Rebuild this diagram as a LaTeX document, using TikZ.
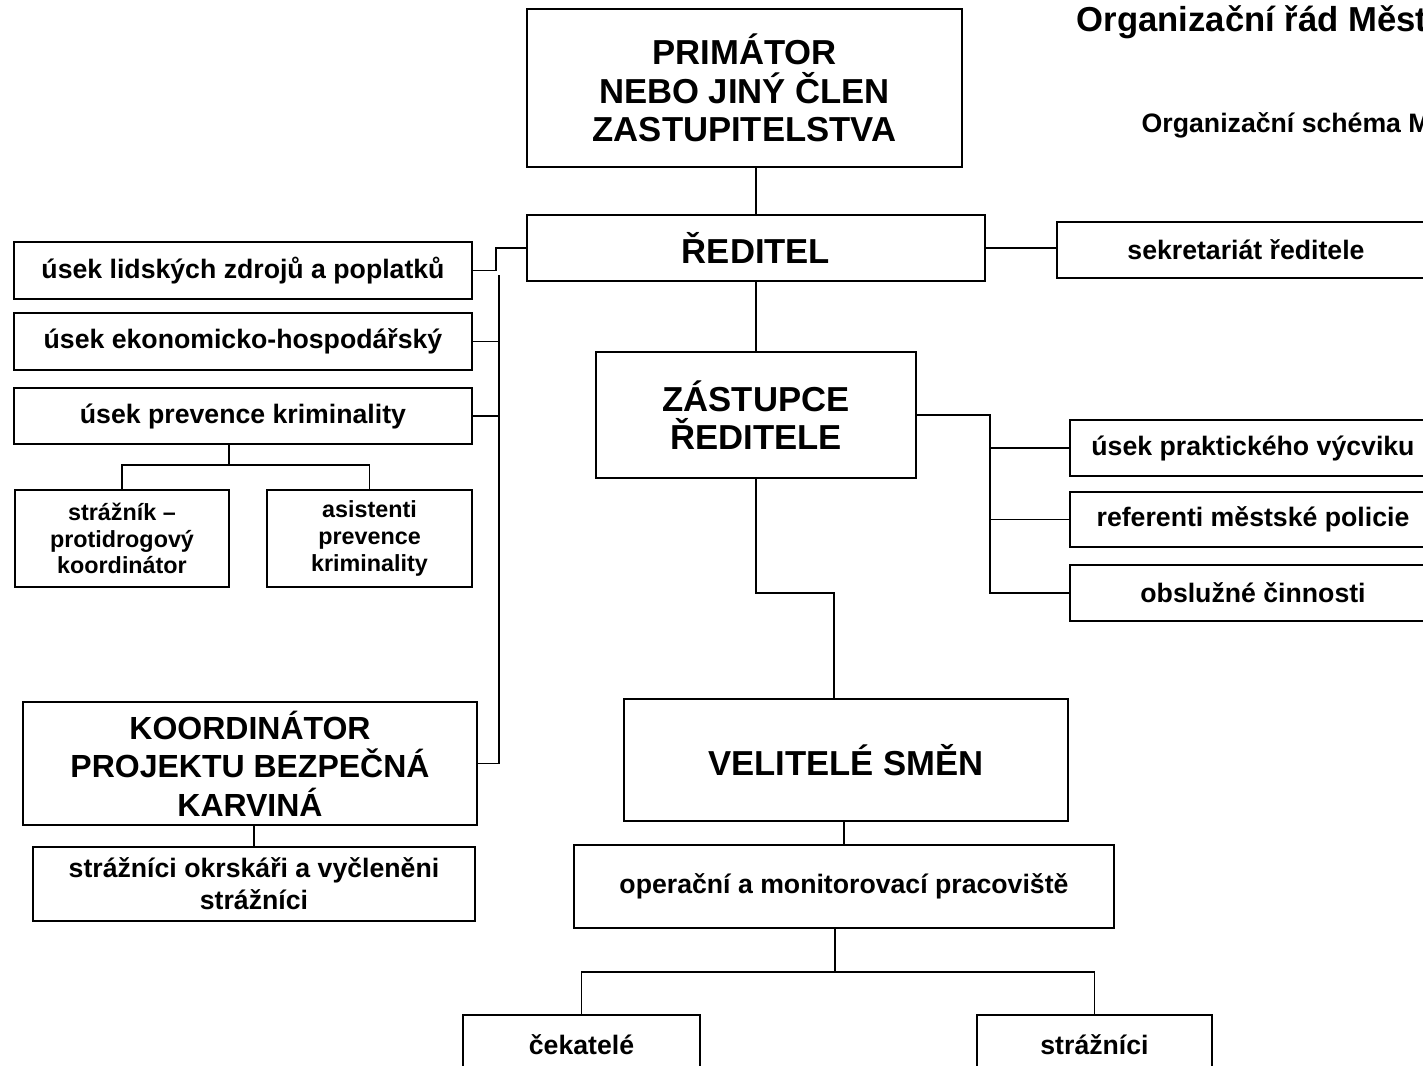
\documentclass[tikz,border=0pt]{standalone}
\usepackage{fontspec}
\setmainfont{Liberation Sans}

\tikzset{box/.style={draw,line width=1.5pt,inner sep=0pt,align=center}}
\tikzset{bigbox/.style={box,font=\fontsize{26}{29}\selectfont\bfseries}}
\tikzset{midbox/.style={box,font=\fontsize{24}{29}\selectfont\bfseries}}
\tikzset{smallbox/.style={box,font=\fontsize{20}{24}\selectfont\bfseries}}
\tikzset{tinybox/.style={box,font=\fontsize{17.5}{20}\selectfont\bfseries}}
\tikzset{conn/.style={line width=1.1pt}}

\begin{document}
\begin{tikzpicture}[x=0.75pt,y=-0.75pt]
        \useasboundingbox (0,0) rectangle (1423,1066);
        % titles (cut at the page edge)
        \node[anchor=base west,font=\fontsize{26}{30}\selectfont\bfseries] (title) at (1072,32) {Organizační řád Měst};
        \node[anchor=base west,font=\fontsize{20}{24}\selectfont\bfseries] (subtitle) at (1137,133) {Organizační schéma M};

        % top of the chart
        \node[bigbox,minimum width=326.25pt,minimum height=118.5pt] (prim) at (744.5,88) {PRIMÁTOR\\NEBO JINÝ ČLEN\\ZASTUPITELSTVA};
        \node[bigbox,minimum width=343.5pt,minimum height=49.5pt] (red) at (756,248) {ŘEDITEL};
        \node[smallbox,minimum width=283.5pt,minimum height=42pt] (sekr) at (1246,250) {sekretariát ředitele};
        \node[bigbox,minimum width=240pt,minimum height=94.5pt] (zast) at (756,415) {ZÁSTUPCE\\ŘEDITELE};

        % left column
        \node[smallbox,minimum width=343.5pt,minimum height=42.75pt] (lid) at (243,270.5) {úsek lidských zdrojů a poplatků};
        \node[smallbox,minimum width=343.5pt,minimum height=42.75pt] (eko) at (243,341.5) {úsek ekonomicko-hospodářský};
        \node[smallbox,minimum width=343.5pt,minimum height=42pt] (prev) at (243,416) {úsek prevence kriminality};
        \node[tinybox,minimum width=160.5pt,minimum height=72.75pt] (strz) at (122,538.5) {strážník –\\protidrogový\\koordinátor};
        \node[tinybox,minimum width=153.75pt,minimum height=72.75pt] (asis) at (369.5,538.5) {asistenti\\prevence\\kriminality};
        \node[midbox,minimum width=340.5pt,minimum height=92.25pt] (koord) at (250,763.5) {KOORDINÁTOR\\PROJEKTU BEZPEČNÁ\\KARVINÁ};
        \node[smallbox,minimum width=331.5pt,minimum height=55.5pt] (okrs) at (254,884) {strážníci okrskáři a vyčleněni\\strážníci};

        % right column
        \node[smallbox,minimum width=274.5pt,minimum height=42pt] (prak) at (1253,448) {úsek praktického výcviku};
        \node[smallbox,minimum width=274.5pt,minimum height=41.25pt] (refe) at (1253,519.5) {referenti městské policie};
        \node[smallbox,minimum width=274.5pt,minimum height=42pt] (obsl) at (1253,593) {obslužné činnosti};

        % shifts
        \node[bigbox,minimum width=333pt,minimum height=91.5pt] (vel) at (846,760) {VELITELÉ SMĚN};
        \node[smallbox,minimum width=405pt,minimum height=62.25pt] (oper) at (844,886.5) {operační a monitorovací pracoviště};
        \node[smallbox,minimum width=177.75pt,minimum height=45pt] (ceka) at (581.5,1045) {čekatelé};
        \node[smallbox,minimum width=176.25pt,minimum height=45pt] (strn) at (1094.5,1045) {strážníci};

        % joints
        \coordinate (trunk) at (499,275);
        \coordinate (prevbar) at (229,465);
        \coordinate (rtrunk) at (990,415);
        \coordinate (vjoin) at (834,593);
        \coordinate (obar) at (835,972);

        % connectors
        \draw[conn] (red.north) -- (red.north |- prim.south);
        \draw[conn] (red.south) -- (zast.north);
        \draw[conn] (red.east) -- (red.east -| sekr.west);
        \draw[conn] (red.west) -- ++(-30,0) |- (lid.east);
        \draw[conn] (trunk) |- (koord.east);
        \draw[conn] (eko.east) -- (eko.east -| trunk);
        \draw[conn] (prev.east) -- (prev.east -| trunk);
        \draw[conn] (prev.south -| prevbar) -- (prevbar);
        \draw[conn] (strz.north) |- (prevbar) -| (asis.north);
        \draw[conn] (okrs.north) -- (okrs.north |- koord.south);
        \draw[conn] (zast.east) -- (rtrunk) |- (obsl.west);
        \draw[conn] (rtrunk |- prak.west) -- (prak.west);
        \draw[conn] (rtrunk |- refe.west) -- (refe.west);
        \draw[conn] (zast.south) -- (zast.south |- vjoin) -- (vjoin) -- (vjoin |- vel.north);
        \draw[conn] (oper.north) -- (oper.north |- vel.south);
        \draw[conn] (oper.south -| obar) -- (obar);
        \draw[conn] (ceka.north) |- (obar) -| (strn.north);
\end{tikzpicture}
\end{document}
